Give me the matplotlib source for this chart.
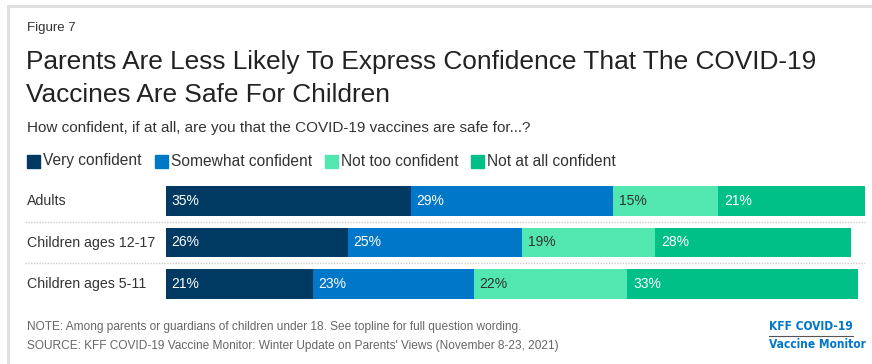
import matplotlib
matplotlib.use("Agg")
import matplotlib.pyplot as plt
from matplotlib.patches import Rectangle
from matplotlib.lines import Line2D

plt.rcParams['font.family'] = ['Liberation Sans', 'DejaVu Sans']

# survey data
categories = ['Adults', 'Children ages 12-17', 'Children ages 5-11']
responses = ['Very confident', 'Somewhat confident', 'Not too confident', 'Not at all confident']
very = [35, 26, 21]
somewhat = [29, 25, 23]
not_too = [15, 19, 22]
not_at_all = [21, 28, 33]
series = [very, somewhat, not_too, not_at_all]

colors = ['#003a63', '#0077c8', '#52e6b0', '#00bf87']
label_colors = ['white', 'white', '#333333', 'white']

W, H = 872, 364
fig = plt.figure(figsize=(W / 100, H / 100), dpi=100)


def fx(px):
    return px / W


def fy(py):
    return 1 - py / H


# card border
fig.add_artist(Line2D([fx(8), 1], [fy(6), fy(6)], color='#dedede', lw=2))
fig.add_artist(Line2D([fx(8), fx(8)], [fy(6), 0], color='#dedede', lw=2))

fig.text(fx(27), fy(28), 'Figure 7', fontsize=9.5, color='#333333', va='center')
fig.text(fx(26), fy(62), 'Parents Are Less Likely To Express Confidence That The COVID-19',
         fontsize=18.9, color='#222222', va='center')
fig.text(fx(26), fy(95), 'Vaccines Are Safe For Children',
         fontsize=18.9, color='#222222', va='center')
fig.text(fx(27), fy(128), 'How confident, if at all, are you that the COVID-19 vaccines are safe for...?',
         fontsize=11, color='#333333', va='center')

# legend
lx = 27
for name, c in zip(responses, colors):
    fig.add_artist(Rectangle((fx(lx), fy(168)), fx(13), 13 / H, color=c,
                             transform=fig.transFigure))
    t = fig.text(fx(lx + 16), fy(161), name, fontsize=11.2, color='#333333', va='center')
    fig.canvas.draw()
    bb = t.get_window_extent()
    lx = bb.x1 + 13

# bars
x0, x1 = 166, 865
top, bot = 180.5, 304.5
ax = fig.add_axes([fx(x0), fy(bot), fx(x1 - x0), (bot - top) / H])
ax.set_xlim(0, 100)
ax.set_ylim(2.5, -0.5)
ax.axis('off')

rows = range(len(categories))
left = [0] * len(categories)
for vals, c, tc in zip(series, colors, label_colors):
    ax.barh(rows, vals, left=left, height=0.72, color=c, edgecolor='none')
    for i, v in enumerate(vals):
        ax.text(left[i] + 0.8, i, f'{v}%', color=tc, fontsize=10, va='center', ha='left')
    left = [a + b for a, b in zip(left, vals)]

for i, cat in enumerate(categories):
    ax.text((27 - x0) / (x1 - x0), i, cat, fontsize=10.2, color='#333333', va='center',
            ha='left', transform=ax.get_yaxis_transform())

# dotted row separators
sep_x0 = (25 - x0) / (x1 - x0)
for yv in [0.5, 1.5]:
    ax.plot([sep_x0, 1], [yv, yv], transform=ax.get_yaxis_transform(), color='#cccccc',
            lw=1, ls=(0, (1, 1)), clip_on=False)

# footer
fig.text(fx(27), fy(327), 'NOTE: Among parents or guardians of children under 18. See topline for full question wording.',
         fontsize=8.55, color='#666666', va='center')
fig.text(fx(27), fy(346), "SOURCE: KFF COVID-19 Vaccine Monitor: Winter Update on Parents' Views (November 8-23, 2021)",
         fontsize=8.55, color='#666666', va='center')

logo_font = ['DejaVu Sans']
fig.text(fx(769), fy(326), 'KFF COVID-19', fontsize=8.6, fontweight='bold', fontstretch='condensed',
         color='#0077c8', va='center', ha='left', family=logo_font)
fig.add_artist(Line2D([fx(769), fx(853)], [fy(335.5), fy(335.5)], color='#555555', lw=0.8))
fig.text(fx(769), fy(345), 'Vaccine Monitor', fontsize=8.6, fontweight='bold', fontstretch='condensed',
         color='#0077c8', va='center', ha='left', family=logo_font)

fig.savefig('out.png', dpi=100)
